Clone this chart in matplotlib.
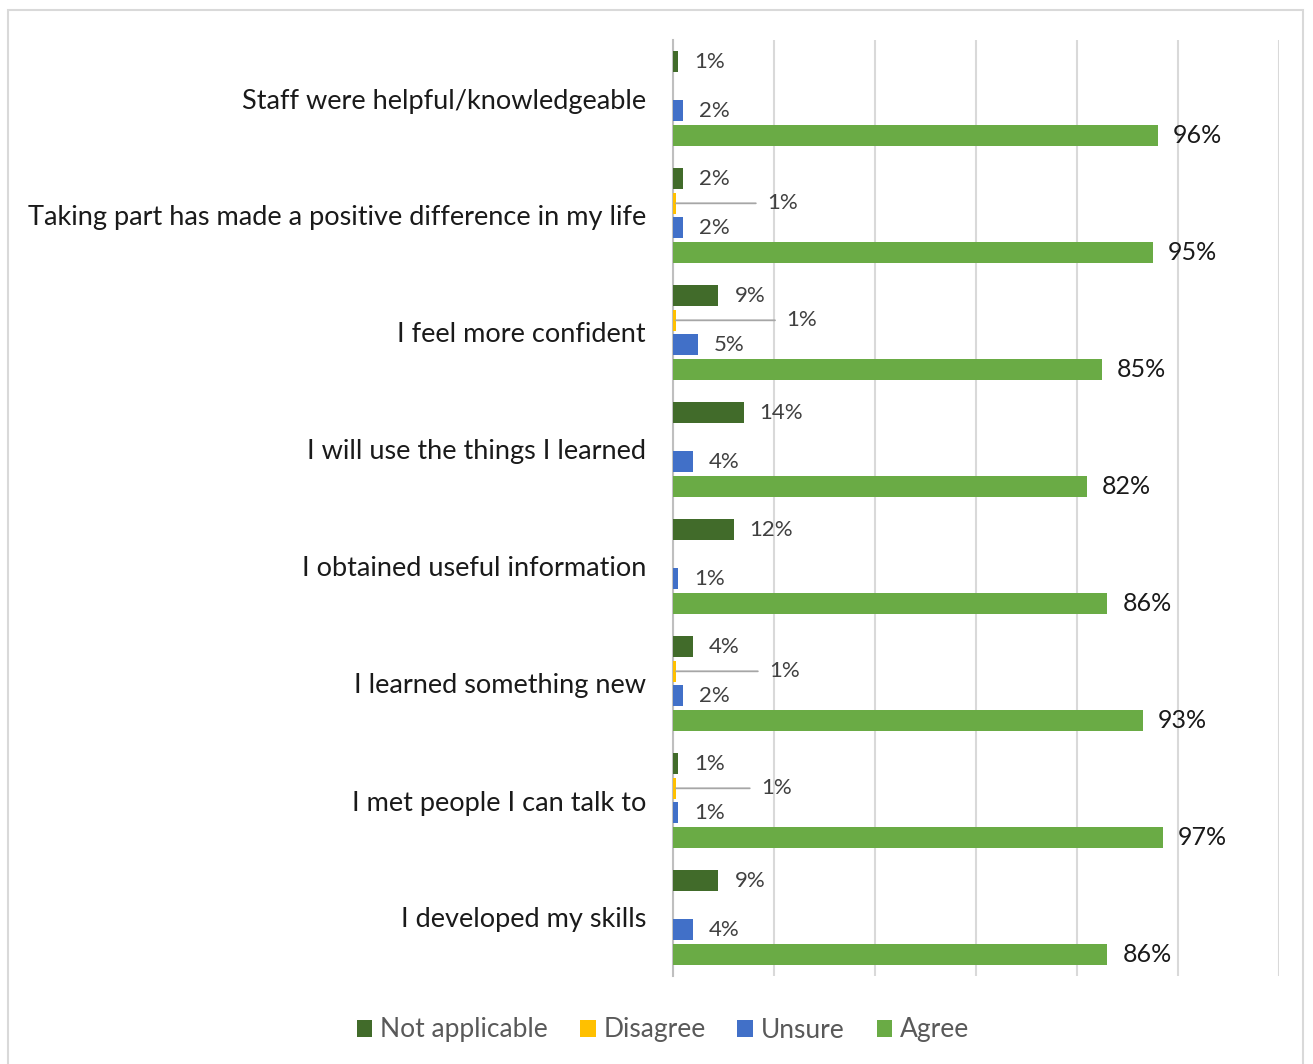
import matplotlib
matplotlib.use("Agg")
import matplotlib.pyplot as plt
from matplotlib.patches import Rectangle, Patch
import numpy as np

plt.rcParams['font.family'] = ['Lato', 'DejaVu Sans']

categories = [
    "Staff were helpful/knowledgeable",
    "Taking part has made a positive difference in my life",
    "I feel more confident",
    "I will use the things I learned",
    "I obtained useful information",
    "I learned something new",
    "I met people I can talk to",
    "I developed my skills",
]
series = ["Not applicable", "Disagree", "Unsure", "Agree"]
not_applicable = [1, 2, 9, 14, 12, 4, 1, 9]
disagree = [0, 1, 1, 0, 0, 1, 1, 0]
unsure = [2, 2, 5, 4, 1, 2, 1, 4]
agree = [96, 95, 85, 82, 86, 93, 97, 86]
# x position (axis units) of the callout labels for the Disagree series
disagree_label_x = [0, 18.6, 22.4, 0, 0, 19.0, 17.4, 0]

colors = ['#416b2a', '#ffc000', '#4170c8', '#6aab45']
values = [not_applicable, disagree, unsure, agree]

W, H = 1313, 1064
fig = plt.figure(figsize=(W / 100, H / 100), dpi=100)
fig.patch.set_facecolor('white')
# outer frame
fig.patches.append(Rectangle((8 / W, -0.01), (1303 - 8) / W, 1 - 10 / H + 0.01,
                             transform=fig.transFigure, fill=False,
                             edgecolor='#d9d9d9', linewidth=1.5))

ax = fig.add_axes([673 / W, 1 - 976 / H, (1279 - 673) / W, (976 - 40) / H])
ax.set_xlim(0, 120)
ax.set_ylim(len(categories) - 0.5, -0.5)

slot = 24.4 / 117
bh = 21 / 117
y = np.arange(len(categories))
px = 120 / (1279 - 673)  # data units per pixel

for j, (name, vals, c) in enumerate(zip(series, values, colors)):
    pos = y + (j - 1.5) * slot
    for i, v in enumerate(vals):
        if v == 0:
            continue
        w = v if j != 1 else 0.6
        ax.barh(pos[i], w, height=bh, color=c, zorder=3)
        if j == 3:
            ax.text(v + 15 * px, pos[i], f"{v}%", va='center', ha='left',
                    fontsize=18, color='#1a1a1a', zorder=4)
        elif j == 1:
            ax.annotate(f"{v}%", xy=(0.6, pos[i]), xytext=(disagree_label_x[i], pos[i]),
                        va='center', ha='left', fontsize=16, color='#404040',
                        arrowprops=dict(arrowstyle='-', color='#a6a6a6', lw=1.3,
                                        shrinkA=6, shrinkB=0), zorder=4)
        else:
            ax.text(v + 16 * px, pos[i], f"{v}%", va='center', ha='left',
                    fontsize=16, color='#404040', zorder=4)

ax.set_xticks(np.arange(0, 121, 20))
ax.xaxis.grid(True, color='#d9d9d9', linewidth=1.5, zorder=0)
ax.tick_params(axis='x', length=0, labelbottom=False)
ax.set_yticks(y)
ax.set_yticklabels(categories, fontsize=19.5, color='#1a1a1a')
ax.tick_params(axis='y', length=0, pad=19.5)
for s in ['top', 'right', 'bottom']:
    ax.spines[s].set_visible(False)
ax.spines['left'].set_color('#bfbfbf')
ax.spines['left'].set_linewidth(1.5)

handles = [Patch(facecolor=c, label=n) for n, c in zip(series, colors)]
fig.legend(handles=handles, loc='center', bbox_to_anchor=(663 / W, 1 - 1030 / H),
           ncol=4, frameon=False, fontsize=19, labelcolor='#595959',
           handlelength=0.6, handleheight=0.6, handletextpad=0.3, columnspacing=1.2)

fig.savefig('out.png', dpi=100)
